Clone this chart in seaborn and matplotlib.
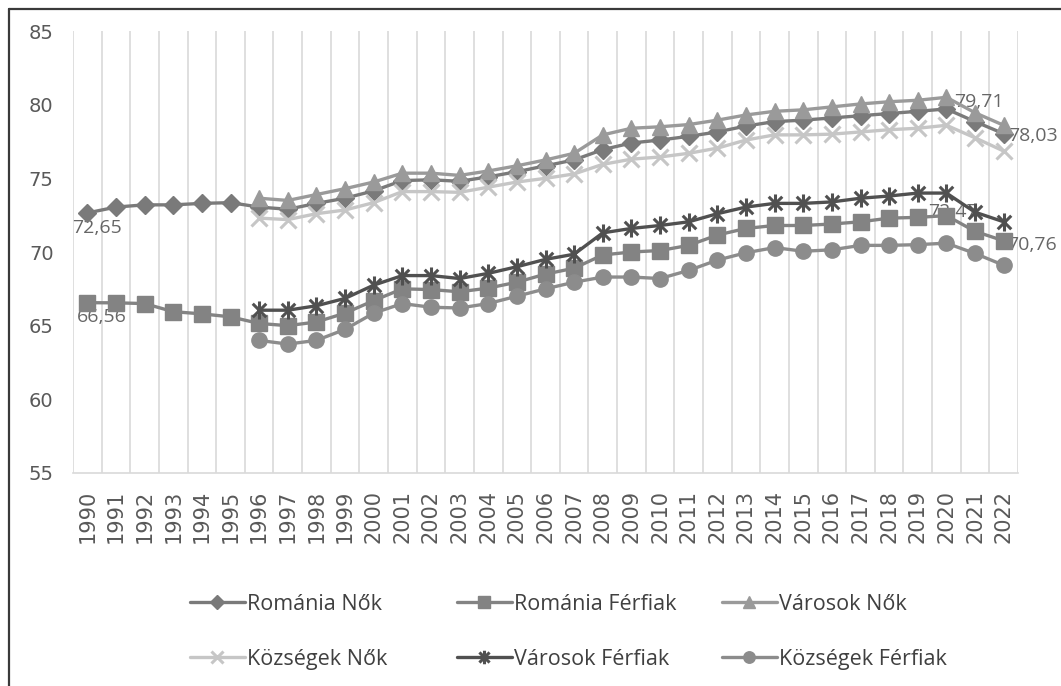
import numpy as np
import pandas as pd
import matplotlib
matplotlib.use("Agg")
import matplotlib.pyplot as plt
import seaborn as sns
from matplotlib.path import Path
from matplotlib.lines import Line2D

# Adatok (leolvasva az ábráról)
years = list(range(1990, 2023))
nan = np.nan

romania_nok = [72.65, 73.05, 73.2, 73.2, 73.3, 73.35, 73.05, 72.9, 73.3, 73.65,
               74.15, 74.85, 74.9, 74.8, 75.1, 75.45, 75.85, 76.25, 76.95, 77.4,
               77.6, 77.85, 78.15, 78.55, 78.85, 78.95, 79.1, 79.25, 79.4, 79.55,
               79.71, 78.85, 78.03]
romania_ferfiak = [66.56, 66.55, 66.5, 65.95, 65.8, 65.6, 65.15, 65.0, 65.25, 65.85,
                   66.7, 67.5, 67.45, 67.3, 67.55, 67.95, 68.5, 68.9, 69.8, 70.0,
                   70.1, 70.45, 71.15, 71.6, 71.8, 71.8, 71.9, 72.05, 72.3, 72.35,
                   72.47, 71.4, 70.76]
varosok_nok = [nan] * 6 + [73.65, 73.5, 73.9, 74.3, 74.75, 75.35, 75.35, 75.2, 75.5,
                           75.85, 76.25, 76.7, 77.95, 78.4, 78.5, 78.65, 78.95, 79.3,
                           79.55, 79.65, 79.85, 80.05, 80.2, 80.3, 80.5, 79.45, 78.6]
kozsegek_nok = [nan] * 6 + [72.3, 72.2, 72.6, 72.85, 73.35, 74.1, 74.1, 74.05, 74.4,
                            74.75, 75.0, 75.3, 75.95, 76.3, 76.45, 76.7, 77.05, 77.6,
                            77.95, 77.95, 78.0, 78.15, 78.3, 78.4, 78.6, 77.75, 76.85]
varosok_ferfiak = [nan] * 6 + [66.05, 66.05, 66.35, 66.85, 67.75, 68.4, 68.4, 68.2,
                               68.55, 69.0, 69.5, 69.85, 71.3, 71.6, 71.8, 72.05, 72.6,
                               73.05, 73.3, 73.3, 73.4, 73.65, 73.8, 74.0, 74.0, 72.7,
                               72.05]
kozsegek_ferfiak = [nan] * 6 + [64.0, 63.75, 64.0, 64.75, 65.85, 66.5, 66.25, 66.2,
                                66.5, 67.0, 67.5, 67.95, 68.3, 68.3, 68.2, 68.75, 69.45,
                                69.95, 70.3, 70.05, 70.15, 70.45, 70.45, 70.5, 70.6,
                                69.9, 69.1]

labels = ["Románia Nők", "Románia Férfiak", "Városok Nők",
          "Községek Nők", "Városok Férfiak", "Községek Férfiak"]

# Excel-szerű csillag marker (függőleges + két átló)
asterisk = Path([(0, -1), (0, 1), (-0.75, -0.75), (0.75, 0.75), (-0.75, 0.75), (0.75, -0.75)],
                [Path.MOVETO, Path.LINETO, Path.MOVETO, Path.LINETO, Path.MOVETO, Path.LINETO])

series = [
    (romania_nok, "#7a7a7a", "D", 9, 1),
    (romania_ferfiak, "#838383", "s", 11, 1),
    (varosok_nok, "#9a9a9a", "^", 11, 1),
    (kozsegek_nok, "#c6c6c6", "x", 11, 2.2),
    (varosok_ferfiak, "#505050", asterisk, 13, 2.2),
    (kozsegek_ferfiak, "#8c8c8c", "o", 11, 1),
]

sns.set_style("white")
plt.rcParams["font.family"] = ["Open Sans", "DejaVu Sans"]

fig = plt.figure(figsize=(10.61, 6.86), dpi=100)
ax = fig.add_axes([0.0688, 0.3105, 0.8907, 0.6443])

for (vals, col, mk, ms, mew), lab in zip(series, labels):
    sns.lineplot(x=years, y=vals, ax=ax, color=col, marker=mk, markersize=ms,
                 markeredgewidth=mew, markeredgecolor=col, markerfacecolor=col,
                 linewidth=2.4, label=lab)

if ax.get_legend() is not None:
    ax.get_legend().remove()

ax.set_xlim(1989.5, 2022.5)
ax.set_ylim(55, 85)
ax.set_yticks(range(55, 90, 5))
ax.set_xticks(years)
ax.set_xticks(np.arange(1989.5, 2023, 1), minor=True)
ax.set_xticklabels([str(y) for y in years], rotation=90, family="DejaVu Sans", fontsize=15)
ax.set_yticklabels([str(v) for v in range(55, 90, 5)], family="DejaVu Sans", fontsize=14)
ax.grid(False)
ax.grid(which="minor", axis="x", color="#d9d9d9", linewidth=1.2)
ax.tick_params(axis="both", which="both", length=0, labelcolor="#595959")
ax.tick_params(axis="x", pad=12)
ax.tick_params(axis="y", pad=14)
for s in ["top", "right", "left"]:
    ax.spines[s].set_visible(False)
ax.spines["bottom"].set_color("#d9d9d9")
ax.spines["bottom"].set_linewidth(1.2)
ax.set_xlabel("")
ax.set_ylabel("")

# adatcímkék
def dlabel(x, y, text, dx, dy):
    ax.annotate(text, (x, y), xytext=(dx, dy), textcoords="offset pixels",
                ha="left", va="center", fontsize=14, color="#666666",
                zorder=1.5, annotation_clip=False)

dlabel(1990, romania_nok[0], "72,65", -15, -15)
dlabel(1990, romania_ferfiak[0], "66,56", -10, -14)
dlabel(2020, romania_nok[30], "79,71", 8, 7)
dlabel(2022, romania_nok[32], "78,03", 4, -2)
dlabel(2020, romania_ferfiak[30], "72,47", -18, 4)
dlabel(2022, romania_ferfiak[32], "70,76", 3, -4)

# jelmagyarázat: három oszlop külön, rögzített pozícióban
handles, _ = ax.get_legend_handles_labels()
col_x = [190 / 1061, 457 / 1061, 722 / 1061]
for c, x0 in enumerate(col_x):
    idx = [c, c + 3]
    fig.legend([handles[i] for i in idx], [labels[i] for i in idx],
               loc="center left", bbox_to_anchor=(x0, 0.079), ncol=1, frameon=False,
               fontsize=15.5, labelcolor="#404040", handlelength=2.55, handletextpad=0.1,
               labelspacing=1.6, markerscale=0.75, borderpad=0, borderaxespad=0)

# külső keret
fig.add_artist(Line2D([9 / 1061, 9 / 1061], [0, 1 - 9 / 686], color="#3a3a3a", linewidth=1.6))
fig.add_artist(Line2D([9 / 1061, 1], [1 - 9 / 686, 1 - 9 / 686], color="#3a3a3a", linewidth=1.6))

fig.savefig("out.png", dpi=100)
